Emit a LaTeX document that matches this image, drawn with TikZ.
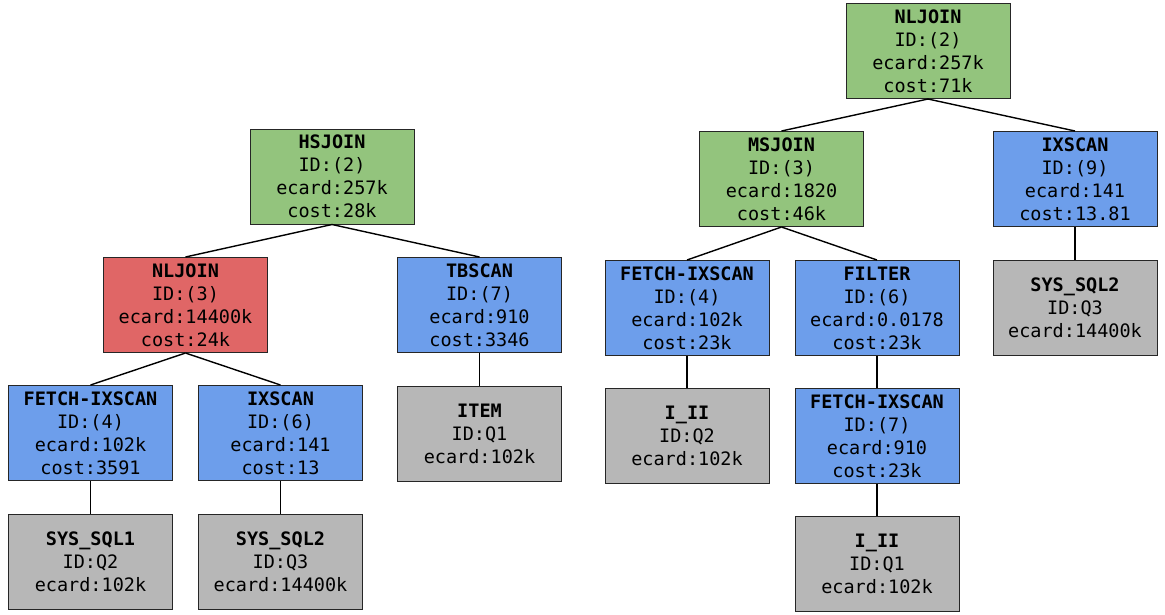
\documentclass[tikz,border=0pt]{standalone}
\usepackage{fontspec}
\setmainfont{DejaVu Sans Mono}
\definecolor{cgreen}{HTML}{93C47D}
\definecolor{cred}{HTML}{E06666}
\definecolor{cblue}{HTML}{6D9EEB}
\definecolor{cgrey}{HTML}{B7B7B7}
\tikzset{
  op/.style={draw=black!85, line width=1pt, minimum width=164pt, minimum height=95pt,
    inner sep=0pt, align=center, font=\fontsize{18.5}{23}\selectfont},
  gn/.style={op, fill=cgreen},
  rd/.style={op, fill=cred},
  bl/.style={op, fill=cblue},
  gy/.style={op, fill=cgrey},
  edge/.style={line width=1.4pt, black}
}
\newcommand{\hd}[1]{\textbf{#1}}
\begin{document}
\begin{tikzpicture}[x=1pt,y=-1pt]
\useasboundingbox (0,0) rectangle (1165,614);
% left tree
\node[gn] (hs) at (332,176.5) {\hd{HSJOIN}\\ID:(2)\\ecard:257k\\cost:28k};
\node[rd] (nl) at (185.5,305) {\hd{NLJOIN}\\ID:(3)\\ecard:14400k\\cost:24k};
\node[bl] (tb) at (479.5,305) {\hd{TBSCAN}\\ID:(7)\\ecard:910\\cost:3346};
\node[bl] (fx) at (90.5,433) {\hd{FETCH-IXSCAN}\\ID:(4)\\ecard:102k\\cost:3591};
\node[bl] (ix) at (280.5,433) {\hd{IXSCAN}\\ID:(6)\\ecard:141\\cost:13};
\node[gy] (s1) at (90.5,562) {\hd{SYS\_SQL1}\\ID:Q2\\ecard:102k};
\node[gy] (s2) at (280.5,562) {\hd{SYS\_SQL2}\\ID:Q3\\ecard:14400k};
\node[gy] (it) at (479.5,434) {\hd{ITEM}\\ID:Q1\\ecard:102k};
\draw[edge] (hs.south) -- (nl.north);
\draw[edge] (hs.south) -- (tb.north);
\draw[edge] (nl.south) -- (fx.north);
\draw[edge] (nl.south) -- (ix.north);
\draw[edge] (fx.south) -- (s1.north);
\draw[edge] (ix.south) -- (s2.north);
\draw[edge] (tb.south) -- (it.north);
% right tree
\node[gn] (rn) at (928,51) {\hd{NLJOIN}\\ID:(2)\\ecard:257k\\cost:71k};
\node[gn] (ms) at (781.5,179) {\hd{MSJOIN}\\ID:(3)\\ecard:1820\\cost:46k};
\node[bl] (i9) at (1075,179) {\hd{IXSCAN}\\ID:(9)\\ecard:141\\cost:13.81};
\node[gy] (rs) at (1075,308) {\hd{SYS\_SQL2}\\ID:Q3\\ecard:14400k};
\node[bl] (f4) at (687,308) {\hd{FETCH-IXSCAN}\\ID:(4)\\ecard:102k\\cost:23k};
\node[bl] (fi) at (877,308) {\hd{FILTER}\\ID:(6)\\ecard:0.0178\\cost:23k};
\node[gy] (q2) at (687,436) {\hd{I\_II}\\ID:Q2\\ecard:102k};
\node[bl] (f7) at (877,436) {\hd{FETCH-IXSCAN}\\ID:(7)\\ecard:910\\cost:23k};
\node[gy] (q1) at (877,564) {\hd{I\_II}\\ID:Q1\\ecard:102k};
\draw[edge] (rn.south) -- (ms.north);
\draw[edge] (rn.south) -- (i9.north);
\draw[edge] (i9.south) -- (rs.north);
\draw[edge] (ms.south) -- (f4.north);
\draw[edge] (ms.south) -- (fi.north);
\draw[edge] (f4.south) -- (q2.north);
\draw[edge] (fi.south) -- (f7.north);
\draw[edge] (f7.south) -- (q1.north);
\end{tikzpicture}
\end{document}
